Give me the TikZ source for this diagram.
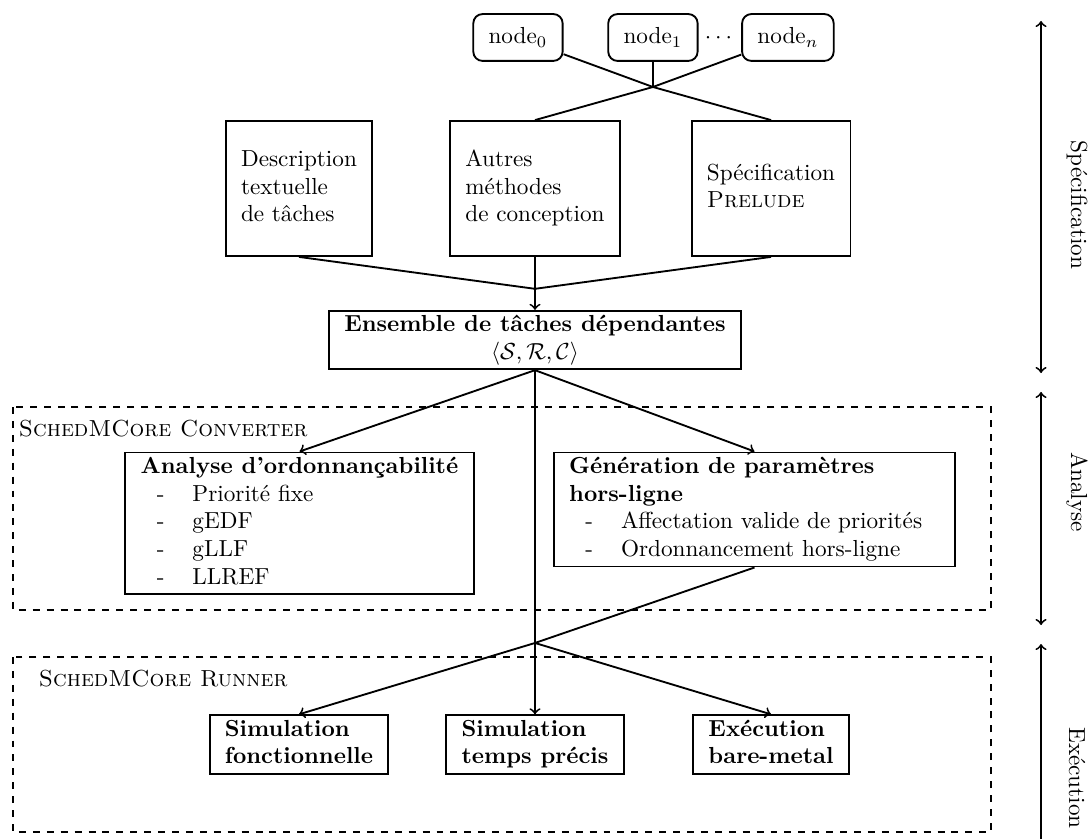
\documentclass[tikz,border=0pt]{standalone}
\usepackage{amsmath}
\usepackage{tikz}
\usetikzlibrary{positioning, calc}

\newcommand{\tiret}{\hspace{7pt}-}

\begin{document}
\begin{tikzpicture}[thick, node distance=3.576cm, on grid,
		bloc/.style={draw, inner sep=0.6pt},
		haut/.style={draw, rounded corners, inner xsep=6.6pt, minimum height=0.71cm},
		cadre/.style={draw, dashed},
		titre/.style={anchor=base west, inner sep=0pt},
		phase/.style={rotate=-90}]
	\useasboundingbox (0,0) rectangle (16.5,-12.712);
	\node[haut] (n_0) at (7.848,-0.568) {node$_0$};
	\node[haut] (n_1) [right=2.045cm of n_0] {node$_1$};
	\node[haut] (n_n) [right=2.045cm of n_1] {node$_n$};
	\node[anchor=base] (dots) at ($(n_1.base)!0.5!(n_n.base)$) {$\cdots$};
	\node[coordinate] (x_0) [below=0.75cm of n_1] {};
	\node[bloc, minimum height=2.045cm] (d_1) at (4.53,-2.856) {\begin{tabular}{l}Description\\ textuelle\\ de tâches\end{tabular}};
	\node[bloc, minimum height=2.045cm] (d_2) [right=of d_1] {\begin{tabular}{l}Autres\\ méthodes\\ de conception\end{tabular}};
	\node[bloc, minimum height=2.045cm] (d_3) [right=of d_2] {\begin{tabular}{l}Spécification\\ \textsc{Prelude}\end{tabular}};
	\node[coordinate] (m) [below=1.52cm of d_2] {};
	\node[bloc] (ens) [below=2.296cm of d_2] {\begin{tabular}{c}\textbf{Ensemble de tâches dépendantes}\\ $\langle\mathcal{S},\mathcal{R},\mathcal{C}\rangle$\end{tabular}};
	\draw (n_0) -- (x_0) -- (d_3.north);
	\draw (n_n) -- (x_0) -- (d_2.north);
	\draw (n_1) -- (x_0);
	\draw (d_1.south) -- (m) -- (d_3.south);
	\draw[->] (d_2) -- (ens);
	
	\draw[cadre] (0.197,-6.167) rectangle (15.015,-9.242);
	\node[titre] (conv) at (0.273,-6.621) {\textsc{SchedMCore Converter}};
	\node[bloc, anchor=north] (ana) at (4.538,-6.841) {\begin{tabular}{ll}\multicolumn{2}{l}{\textbf{Analyse d’ordonnançabilité}}\\ \tiret & Priorité fixe\\ \tiret & gEDF\\ \tiret & gLLF\\ \tiret & LLREF\end{tabular}};
	\node[bloc, anchor=north] (gen) at (11.432,-6.841) {\begin{tabular}{lp{4.83cm}}\multicolumn{2}{l}{\textbf{Génération de paramètres}}\\ \multicolumn{2}{l}{\textbf{hors-ligne}}\\ \tiret & Affectation valide de priorités\\ \tiret & Ordonnancement hors-ligne\end{tabular}};
	
	\draw[cadre] (0.197,-9.955) rectangle (15.015,-12.606);
	\node[titre] (run) at (0.576,-10.394) {\textsc{SchedMCore Runner}};
	\node[bloc] (s_1) at (4.53,-11.28) {\begin{tabular}{l}\textbf{Simulation}\\ \textbf{fonctionnelle}\end{tabular}};
	\node[bloc] (s_2) [right=of s_1] {\begin{tabular}{l}\textbf{Simulation}\\ \textbf{temps précis}\end{tabular}};
	\node[bloc] (s_3) [right=of s_2] {\begin{tabular}{l}\textbf{Exécution}\\ \textbf{bare-metal}\end{tabular}};
	\node[coordinate] (y_0) [below=4.59cm of ens] {};
	\draw[->] (ens.south) -- (ana.north);
	\draw[->] (ens.south) -- (gen.north);
	\draw[->] (ens) -- (s_2);
	\draw (gen.south) -- (y_0);
	\draw[->] (y_0) -- (s_1.north);
	\draw[->] (y_0) -- (s_3.north);
	
	\coordinate (a_0) at (15.773,-0.318);
	\coordinate (a_1) at (15.773,-5.652);
	\coordinate (b_0) at (15.773,-5.939);
	\coordinate (b_1) at (15.773,-9.470);
	\coordinate (c_0) at (15.773,-9.758);
	\coordinate (c_1) at (15.773,-13.82);
	\draw[<->] (a_0) -- (a_1);
	\draw[<->] (b_0) -- (b_1);
	\draw[<->] (c_0) -- (c_1);
	\node[phase] (spec) at (16.318,-3.106) {Spécification};
	\node[phase] (anal) at (16.318,-7.455) {Analyse};
	\node[phase] (exec) at (16.318,-11.788) {Exécution};
\end{tikzpicture}
\end{document}
